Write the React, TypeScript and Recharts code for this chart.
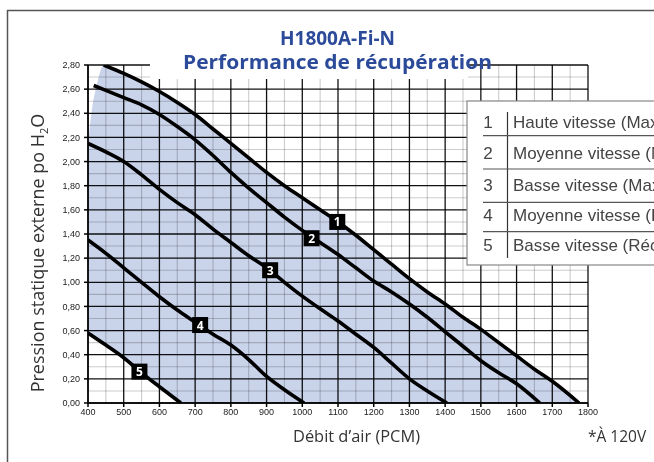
import React from 'react';
import { ComposedChart, Line, Area, XAxis, YAxis, ReferenceLine, ReferenceDot } from 'recharts';

// axes
const xTicks = [400, 500, 600, 700, 800, 900, 1000, 1100, 1200, 1300, 1400, 1500, 1600, 1700, 1800];
const yTicks = [0, 0.2, 0.4, 0.6, 0.8, 1.0, 1.2, 1.4, 1.6, 1.8, 2.0, 2.2, 2.4, 2.6, 2.8];
const xMinor = [450, 550, 650, 750, 850, 950, 1050, 1150, 1250, 1350, 1450, 1550, 1650, 1750];
const yMinor = [0.1, 0.3, 0.5, 0.7, 0.9, 1.1, 1.3, 1.5, 1.7, 1.9, 2.1, 2.3, 2.5, 2.7];

// curves: [débit PCM, pression po H2O]
const speed1 = [[444, 2.8], [500, 2.73], [550, 2.66], [600, 2.58], [650, 2.49], [700, 2.39], [750, 2.27], [800, 2.15], [850, 2.03], [900, 1.91], [950, 1.8], [1000, 1.7], [1050, 1.6], [1100, 1.5], [1150, 1.39], [1200, 1.27], [1250, 1.15], [1300, 1.03], [1350, 0.92], [1400, 0.82], [1450, 0.71], [1500, 0.61], [1550, 0.5], [1600, 0.39], [1650, 0.28], [1700, 0.18], [1775, 0]];
const speed2 = [[416, 2.63], [450, 2.59], [500, 2.53], [550, 2.47], [600, 2.39], [650, 2.29], [700, 2.18], [750, 2.05], [800, 1.91], [850, 1.78], [900, 1.66], [950, 1.54], [1000, 1.43], [1050, 1.33], [1100, 1.23], [1150, 1.12], [1200, 1.01], [1250, 0.92], [1300, 0.82], [1350, 0.71], [1400, 0.59], [1450, 0.47], [1500, 0.35], [1550, 0.25], [1600, 0.16], [1665, 0]];
const speed3 = [[400, 2.15], [450, 2.08], [500, 2.0], [550, 1.89], [600, 1.77], [650, 1.66], [700, 1.56], [750, 1.44], [800, 1.33], [850, 1.22], [900, 1.12], [950, 1.0], [1000, 0.885], [1050, 0.78], [1100, 0.68], [1150, 0.57], [1200, 0.46], [1250, 0.33], [1300, 0.2], [1350, 0.1], [1405, 0]];
const speed4 = [[400, 1.35], [450, 1.24], [500, 1.12], [550, 1.0], [600, 0.88], [650, 0.77], [700, 0.67], [750, 0.57], [800, 0.48], [850, 0.36], [900, 0.22], [950, 0.11], [1005, 0]];
const speed5 = [[400, 0.58], [450, 0.48], [500, 0.375], [550, 0.25], [600, 0.135], [660, 0]];

// shaded operating zone: [x, bas, haut]
const zone = [[400, 0.58, 2.16], [404, 0.57, 2.26], [411, 0.56, 2.43], [425, 0.53, 2.64], [444, 0.49, 2.8], [500, 0.375, 2.73], [550, 0.25, 2.66], [600, 0.135, 2.58], [660, 0, 2.47], [700, 0, 2.39], [750, 0, 2.27], [800, 0, 2.15], [850, 0, 2.03], [900, 0, 1.91], [950, 0, 1.8], [1000, 0, 1.7], [1050, 0, 1.6], [1100, 0, 1.5], [1150, 0, 1.39], [1200, 0, 1.27], [1250, 0, 1.15], [1300, 0, 1.03], [1350, 0, 0.92], [1400, 0, 0.82], [1450, 0, 0.71], [1500, 0, 0.61], [1550, 0, 0.5], [1600, 0, 0.39], [1650, 0, 0.28], [1700, 0, 0.18], [1775, 0, 0]];

// numbered tags on the curves
const tags = [['1', 1098, 1.5], ['2', 1026, 1.365], ['3', 910, 1.1], ['4', 714, 0.646], ['5', 544, 0.26]] as const;

const legendRows = ['Haute vitesse (Maximum)', 'Moyenne vitesse (Maximum)', 'Basse vitesse (Maximum)', 'Moyenne vitesse (Récupération)', 'Basse vitesse (Récupération)'];

const toPts = (arr: number[][]) => arr.map(([x, y]) => ({ x, y }));
const zoneData = zone.map(([x, lo, hi]) => ({ x, range: [lo, hi] }));
const curves = [speed1, speed2, speed3, speed4, speed5];

const fmt = (v: number) => v.toFixed(2).replace('.', ',');
const tickFont = { fill: '#222', fontSize: 9, fontFamily: 'Liberation Sans, Arial, sans-serif' };

const Tag = (n: string) => (props: any) => (
  <g>
    <rect x={props.cx - 8} y={props.cy - 8} width={16} height={16} fill="#000" />
    <text x={props.cx} y={props.cy + 4.5} textAnchor="middle" fill="#fff" fontSize={12} fontWeight={700} fontFamily="Open Sans, sans-serif">{n}</text>
  </g>
);

export default function App() {
  const rowY = [122, 153, 185, 215, 245];
  return (
    <div style={{ position: 'fixed', left: 0, top: 0, width: 654, height: 462, overflow: 'hidden', background: '#fff' }}>
      <style>{`.recharts-reference-line line { mix-blend-mode: multiply; }`}</style>
      <ComposedChart width={654} height={462} margin={{ top: 65, right: 66, left: 48, bottom: 29 }}>
        <XAxis dataKey="x" type="number" domain={[400, 1800]} ticks={xTicks} allowDataOverflow
          stroke="#000" strokeWidth={1.5} tickSize={4} tickMargin={2} height={30} tick={tickFont} />
        <YAxis type="number" domain={[0, 2.8]} ticks={yTicks} allowDataOverflow tickFormatter={fmt}
          stroke="#000" strokeWidth={1.5} tickSize={4} tickMargin={4} width={40} tick={tickFont} />
        <Area data={zoneData} dataKey="range" type="monotone" fill="#c9d3ea" fillOpacity={1} stroke="none" isAnimationActive={false} />
        {xMinor.map(v => <ReferenceLine key={'xm' + v} x={v} stroke="#cccccc" strokeWidth={1.1} />)}
        {yMinor.map(v => <ReferenceLine key={'ym' + v} y={v} stroke="#cccccc" strokeWidth={1.1} />)}
        {xTicks.map(v => <ReferenceLine key={'xM' + v} x={v} stroke="#111" strokeWidth={1.3} />)}
        {yTicks.map(v => <ReferenceLine key={'yM' + v} y={v} stroke="#111" strokeWidth={1.3} />)}
        {curves.map((c, i) => (
          <Line key={i} data={toPts(c)} dataKey="y" type="monotone" stroke="#000" strokeWidth={3.6} dot={false} isAnimationActive={false} />
        ))}
        {tags.map(([n, x, y]) => <ReferenceDot key={n} x={x} y={y} r={8} shape={Tag(n)} />)}
      </ComposedChart>
      <svg width={654} height={462} style={{ position: 'absolute', left: 0, top: 0, pointerEvents: 'none' }}>
        <line x1={7.5} y1={10} x2={7.5} y2={462} stroke="#555" strokeWidth={1.5} />
        <line x1={7} y1={10.5} x2={654} y2={10.5} stroke="#555" strokeWidth={1.5} />
        <rect x={150} y={12} width={318} height={67} fill="#fff" />
        <g fill="#2c4a9a" fontFamily="Open Sans, sans-serif" fontWeight={700} fontSize={19} textAnchor="middle">
          <text x={337.5} y={45}>H1800A-Fi-N</text>
          <text x={337.5} y={69} textLength={309} lengthAdjust="spacingAndGlyphs">Performance de récupération</text>
        </g>
        <text transform="translate(44,253) rotate(-90)" textAnchor="middle" fill="#333" fontSize={18} fontFamily="Open Sans, sans-serif">
          Pression statique externe po H<tspan fontSize={11} dy={4}>2</tspan><tspan dy={-4}>O</tspan>
        </text>
        <text x={356.5} y={442} textAnchor="middle" fill="#333" fontSize={15.5} fontFamily="Open Sans, sans-serif" textLength={127} lengthAdjust="spacingAndGlyphs">Débit d’air (PCM)</text>
        <text x={588} y={442} fill="#333" fontSize={15.5} fontFamily="Open Sans, sans-serif">*À 120V</text>
        <g>
          <rect x={467} y={101} width={200} height={164} fill="#fff" stroke="#888" strokeWidth={1.2} />
          <line x1={507.5} y1={112} x2={507.5} y2={258} stroke="#333" strokeWidth={1.2} />
          {[135.7, 169, 202.3, 231.7].map(y => <line key={y} x1={483} y1={y} x2={654} y2={y} stroke="#555" strokeWidth={1.2} />)}
          {legendRows.map((t, i) => (
            <g key={t} fill="#444" fontFamily="Liberation Sans, Arial, sans-serif">
              <text x={488} y={rowY[i] + 6} textAnchor="middle" fontSize={17}>{i + 1}</text>
              <text x={513} y={rowY[i] + 6} fontSize={17}>{t}</text>
            </g>
          ))}
        </g>
      </svg>
    </div>
  );
}
